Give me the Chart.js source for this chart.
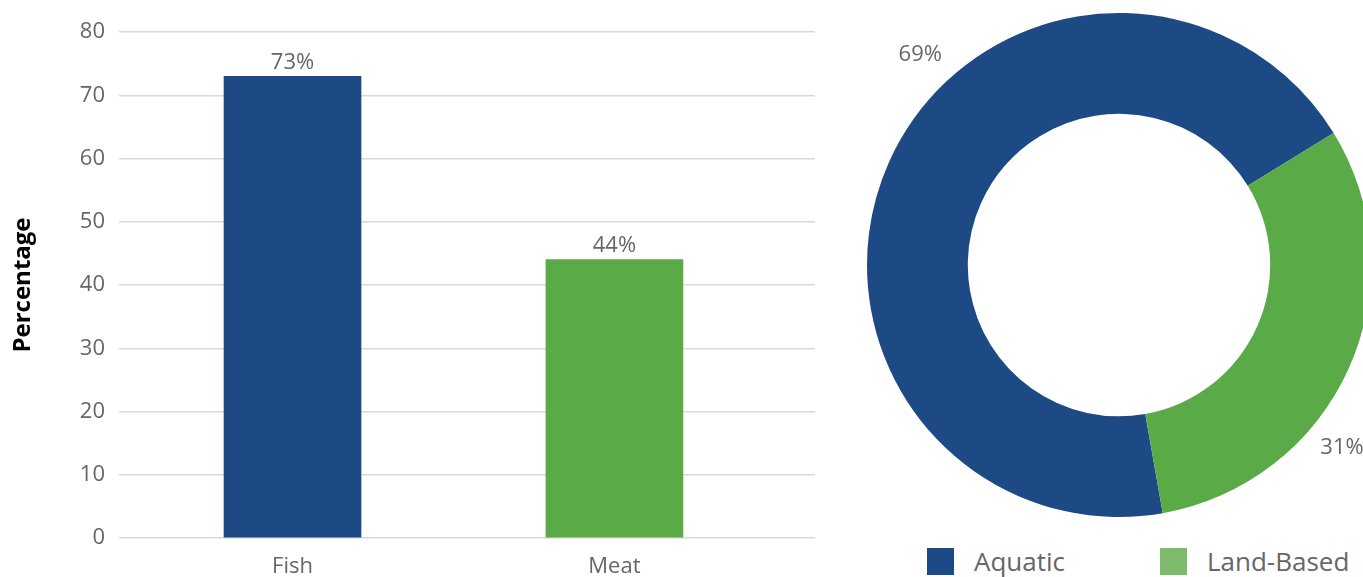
<!DOCTYPE html>
<html>
<head>
<meta charset="utf-8">
<script src="https://cdn.jsdelivr.net/npm/chart.js@4.4.0/dist/chart.umd.min.js"></script>
<style>
  html, body { margin: 0; padding: 0; background: #fff; overflow: hidden; width: 1363px; height: 577px; }
  #bar-wrap { position: absolute; left: 0; top: 0; width: 830px; height: 577px; }
  #pie-wrap { position: absolute; left: 850px; top: 0; width: 538px; height: 530px; }
  #pie-legend { position: absolute; left: 927px; top: 546px; width: 500px; display: flex; align-items: center;
    white-space: nowrap; font-family: 'Open Sans', sans-serif; font-size: 26px; color: #666; line-height: 31px; }
  #pie-legend .item { display: flex; align-items: center; width: 233px; flex: none; }
  #pie-legend .box { width: 27px; height: 27px; margin-right: 20px; flex: none; }
</style>
</head>
<body>
<div id="bar-wrap"><canvas id="chart-bar" width="830" height="577"></canvas></div>
<div id="pie-wrap"><canvas id="chart-pie" width="538" height="530"></canvas></div>
<div id="pie-legend"></div>
<script>
// dados
const barLabels = ['Fish', 'Meat'];
const barValues = [73, 44];
const barColors = ['#1d4a85', '#5aab48'];

const pieLabels = ['Aquatic', 'Land-Based'];
const pieValues = [69, 31];
const pieColors = ['#1d4a85', '#5aab48'];
const legendColors = ['#1d4a85', '#7dba6b'];

const FONT = "'Open Sans', sans-serif";
const GREY = '#666666';
const pieLabelFrac = [0.59, 0.635]; // onde o rótulo fica ao longo da fatia
const pieLabelGap = [37, 36];

// rótulos em cima das barras
const barValueLabels = {
  id: 'barValueLabels',
  afterDatasetsDraw(chart) {
    const ctx = chart.ctx;
    const meta = chart.getDatasetMeta(0);
    ctx.save();
    ctx.font = '22px ' + FONT;
    ctx.fillStyle = GREY;
    ctx.textAlign = 'center';
    ctx.textBaseline = 'bottom';
    meta.data.forEach((bar, i) => {
      ctx.fillText(barValues[i] + '%', bar.x, bar.y - 3);
    });
    ctx.restore();
  }
};

// rótulos fora do anel
const pieOuterLabels = {
  id: 'pieOuterLabels',
  afterDatasetsDraw(chart) {
    const ctx = chart.ctx;
    const meta = chart.getDatasetMeta(0);
    ctx.save();
    ctx.font = '22px ' + FONT;
    ctx.fillStyle = GREY;
    ctx.textAlign = 'center';
    ctx.textBaseline = 'middle';
    meta.data.forEach((arc, i) => {
      const a = arc.startAngle + pieLabelFrac[i] * (arc.endAngle - arc.startAngle);
      const r = arc.outerRadius + pieLabelGap[i];
      ctx.fillText(pieValues[i] + '%', arc.x + Math.cos(a) * r, arc.y + Math.sin(a) * r);
    });
    ctx.restore();
  }
};

new Chart(document.getElementById('chart-bar'), {
  type: 'bar',
  data: {
    datasets: [{
      data: barLabels.map((l, i) => ({ x: i + 1, y: barValues[i] })),
      backgroundColor: barColors,
      barThickness: 137
    }]
  },
  options: {
    responsive: false, animation: false,
    layout: { padding: { top: 32, right: 15, left: 0, bottom: 0 } },
    plugins: { legend: { display: false }, tooltip: { enabled: false } },
    scales: {
      x: {
        type: 'linear', min: 0.461, max: 2.623, offset: false,
        afterBuildTicks: s => { s.ticks = barLabels.map((l, i) => ({ value: i + 1 })); },
        grid: { display: false },
        border: { display: false },
        ticks: { color: GREY, font: { family: FONT, size: 22 }, padding: 8, callback: v => barLabels[v - 1] },
        afterFit: s => { s.height = 39; }
      },
      y: {
        min: 0, max: 80,
        ticks: { stepSize: 10, color: GREY, font: { family: FONT, size: 22 }, padding: 14 },
        grid: { color: '#d9d9d9', lineWidth: 1.5, drawTicks: false },
        border: { display: false },
        title: { display: true, text: 'Percentage', color: '#000', font: { family: FONT, size: 24, weight: 'bold' }, padding: { top: 9, bottom: 0 } },
        afterFit: s => { s.width = 119; }
      }
    }
  },
  plugins: [barValueLabels]
});

new Chart(document.getElementById('chart-pie'), {
  type: 'doughnut',
  data: {
    labels: pieLabels,
    datasets: [{ data: pieValues, backgroundColor: pieColors, borderWidth: 0, hoverOffset: 0 }]
  },
  options: {
    responsive: false, animation: false,
    rotation: 170, cutout: '60%',
    layout: { padding: { top: 13, bottom: 13 } },
    plugins: { legend: { display: false }, tooltip: { enabled: false } }
  },
  plugins: [pieOuterLabels]
});

// legenda
const legend = document.getElementById('pie-legend');
pieLabels.forEach((l, i) => {
  const item = document.createElement('div');
  item.className = 'item';
  item.innerHTML = `<div class="box" style="background:${legendColors[i]}"></div><span>${l}</span>`;
  legend.appendChild(item);
});
</script>
</body>
</html>
